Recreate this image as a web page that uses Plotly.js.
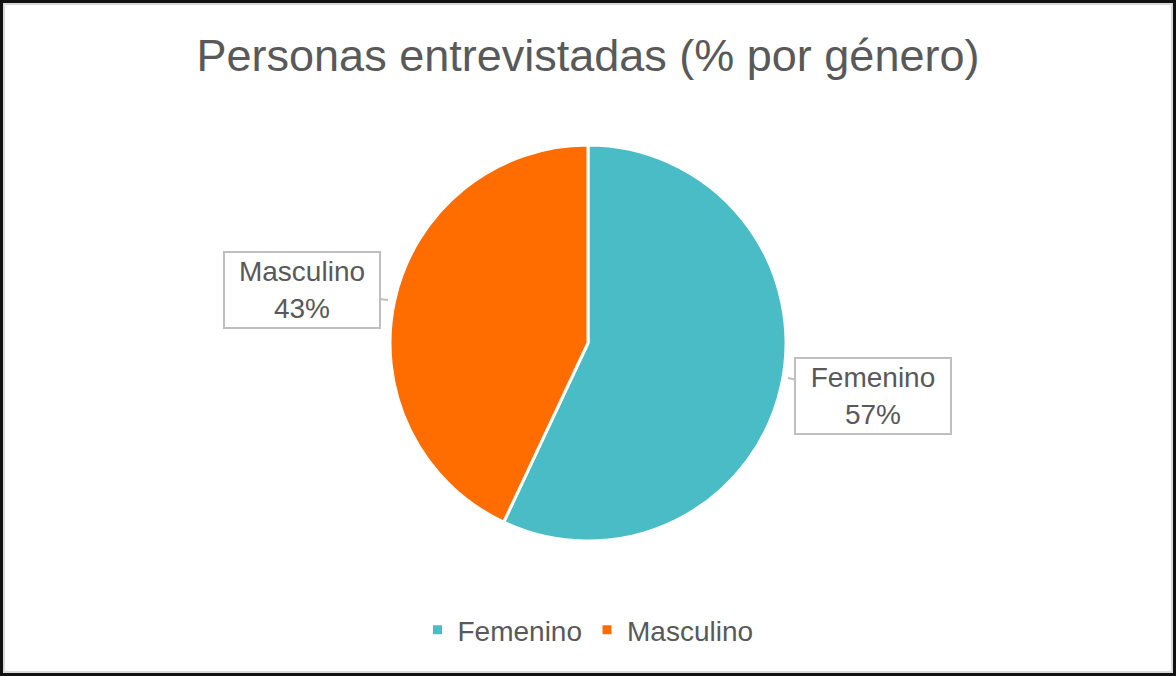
<!DOCTYPE html>
<html>
<head>
<meta charset="utf-8">
<script src="https://cdn.plot.ly/plotly-3.0.1.min.js"></script>
<style>
  html, body { margin: 0; padding: 0; background: #ffffff; }
  #wrap { position: relative; width: 1176px; height: 676px; }
  #chart { position: absolute; left: 0; top: 0; width: 1176px; height: 676px; }
  #frame { position: absolute; left: 0; top: 0; width: 1176px; height: 676px; box-sizing: border-box;
           border: 3px solid #111111; pointer-events: none; }
  #frame2 { position: absolute; left: 3px; top: 3px; width: 1170px; height: 670px; box-sizing: border-box;
           border: 2px solid #d9d9d9; pointer-events: none; }
</style>
</head>
<body>
<div id="wrap">
  <div id="chart"></div>
  <div id="frame"></div>
  <div id="frame2"></div>
</div>
<script>
const categories = ["Femenino", "Masculino"];
const values = [57, 43];
const colors = ["#49BCC6", "#FF6D00"];
const titleText = "Personas entrevistadas (% por género)";

const W = 1176, H = 676;
const font = "Liberation Sans, Arial, sans-serif";
const grey = "#595959";

const trace = {
  type: "pie",
  labels: categories,
  values: values,
  sort: false,
  direction: "clockwise",
  rotation: 0,
  textinfo: "none",
  hoverinfo: "label+percent",
  marker: { colors: colors, line: { color: "#ffffff", width: 3 } },
  domain: { x: [390 / W, 786 / W], y: [(H - 343 - 198) / H, (H - 343 + 198) / H] }
};

// callout label layout (tips on pie edge, box offsets)
const calloutTips = [[788, 378], [388, 300]];
const calloutBox = [[873, 396], [302, 290]];
const annotations = categories.map((c, i) => ({
  xref: "paper", yref: "paper",
  x: calloutTips[i][0] / W, y: 1 - calloutTips[i][1] / H,
  ax: calloutBox[i][0] - calloutTips[i][0], ay: calloutBox[i][1] - calloutTips[i][1],
  showarrow: true, arrowhead: 0, arrowwidth: 2, arrowcolor: "#bfbfbf",
  text: c + "<br>" + values[i] + "%",
  font: { family: font, size: 28, color: grey },
  bgcolor: "#ffffff", bordercolor: "#bfbfbf", borderwidth: 2, borderpad: 2,
  width: 150, height: 70, align: "center"
}));

const layout = {
  width: W, height: H,
  margin: { l: 0, r: 0, t: 0, b: 0 },
  paper_bgcolor: "#ffffff",
  title: {
    text: titleText,
    font: { family: font, size: 45, color: grey },
    x: 0.5, xanchor: "center", y: 1 - 55 / H, yanchor: "middle"
  },
  showlegend: true,
  legend: {
    orientation: "h", x: 0.5, xanchor: "center", y: 1 - 630 / H, yanchor: "middle",
    font: { family: font, size: 28, color: grey }, itemwidth: 30, traceorder: "normal"
  },
  annotations: annotations
};

Plotly.newPlot("chart", [trace], layout, { displayModeBar: false, staticPlot: true });
</script>
</body>
</html>
